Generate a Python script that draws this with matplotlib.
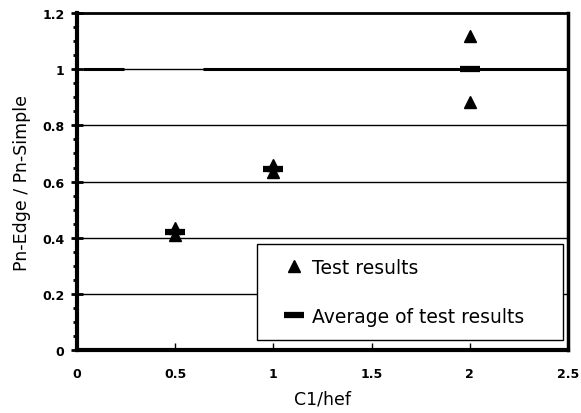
"""Edge-distance effect on anchor capacity: Pn-Edge / Pn-Simple vs C1/hef"""
import matplotlib
matplotlib.use("Agg")
import matplotlib.pyplot as plt
from matplotlib.ticker import MultipleLocator

# Test data
test_x = [0.5, 0.5, 1.0, 1.0, 2.0, 2.0]
test_y = [0.435, 0.41, 0.66, 0.635, 1.12, 0.885]

# Averages of the test results per C1/hef
avg_x = [0.5, 1.0, 2.0]
avg_y = [0.42, 0.645, 1.0]

# Reference line at ratio 1.0 (drawn in two pieces)
ref_x = [[0.03, 0.24], [0.64, 2.5]]
ref_y = [[1.0, 1.0], [1.0, 1.0]]

x_ticks = [0, 0.5, 1, 1.5, 2, 2.5]
x_tick_labels = ["0", "0.5", "1", "1.5", "2", "2.5"]
y_ticks = [0, 0.2, 0.4, 0.6, 0.8, 1.0, 1.2]
y_tick_labels = ["0", "0.2", "0.4", "0.6", "0.8", "1", "1.2"]

fig = plt.figure(figsize=(5.81, 4.14), dpi=100)
ax = fig.add_axes([0.1325, 0.152, 0.845, 0.814])

# Horizontal gridlines
for yv in y_ticks[1:-1]:
    ax.axhline(yv, color="black", lw=1.0, zorder=1)

for xs, ys in zip(ref_x, ref_y):
    ax.plot(xs, ys, color="black", lw=2.2, solid_capstyle="butt", zorder=2)

ax.plot(test_x, test_y, linestyle="none", marker="^", ms=8.5, color="black",
        label="Test results", zorder=3)
ax.plot(avg_x, avg_y, linestyle="none", marker="_", ms=14, mew=4.5, color="black",
        label="Average of test results", zorder=3)

ax.set_xlim(0, 2.5)
ax.set_ylim(0, 1.2)
ax.set_xticks(x_ticks)
ax.set_xticklabels(x_tick_labels, fontweight="bold", fontsize=9)
ax.set_yticks(y_ticks)
ax.set_yticklabels(y_tick_labels, fontweight="bold", fontsize=9)
ax.yaxis.set_minor_locator(MultipleLocator(0.05))

ax.tick_params(axis="x", direction="in", length=5, width=1, pad=12)
ax.tick_params(axis="y", which="major", direction="inout", length=8, width=2, pad=5)
ax.tick_params(axis="y", which="minor", direction="out", length=3, width=2)

ax.spines["left"].set_linewidth(3)
ax.spines["bottom"].set_linewidth(3)
ax.spines["top"].set_linewidth(2)
ax.spines["right"].set_linewidth(2.5)

ax.set_xlabel("C1/hef", fontsize=12.5, labelpad=7)
ax.set_ylabel("Pn-Edge / Pn-Simple", fontsize=12.5, labelpad=8)

# legend box spans the lower right part of the plot area
leg = ax.legend(loc="lower left", bbox_to_anchor=(0.3666, 0.03, 0.623, 0.29),
                mode="expand", frameon=True, fancybox=False, edgecolor="black",
                fontsize=13.5, handlelength=2.5, handletextpad=-0.3,
                labelspacing=1.6, borderpad=0.75, borderaxespad=0.0)
leg.get_frame().set_linewidth(1.0)
leg.get_frame().set_alpha(1)

fig.savefig("out.png", dpi=100)
